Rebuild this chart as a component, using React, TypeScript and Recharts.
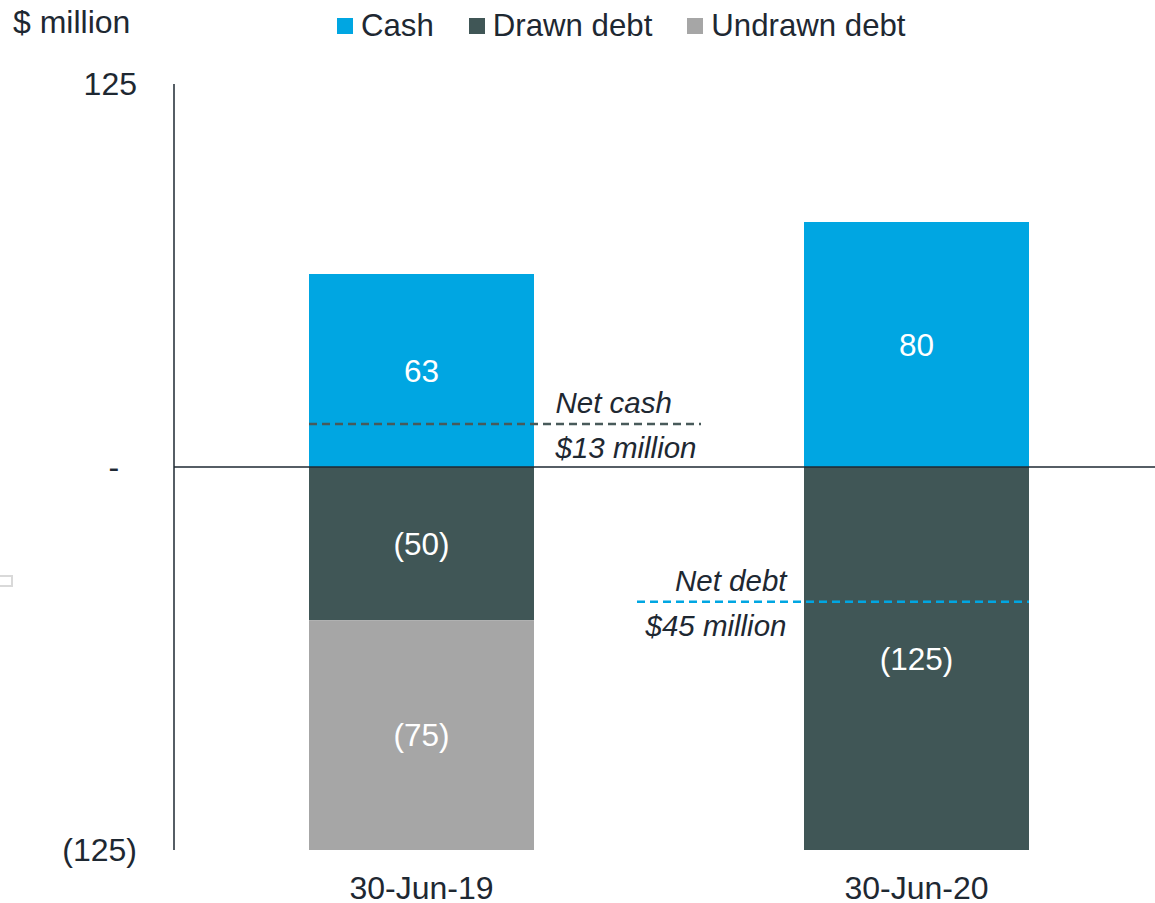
import { BarChart, Bar, XAxis, YAxis, ReferenceLine, LabelList, Legend } from "recharts";

const categories = ["30-Jun-19", "30-Jun-20"];
const cash = [63, 80];
const drawnDebt = [-50, -125];
const undrawnDebt = [-75, null];

const yTicks = [-125, 0, 125];

// net position markers
const netCash = 14;
const netDebt = -44;

const TEXT = "#1e2832";
const FONT = "'Liberation Sans', Arial, sans-serif";
const COLORS = { cash: "#00a6e2", drawn: "#405656", undrawn: "#a6a6a6" };
const BAR = 225;

const data = categories.map((c, i) => ({
  date: c,
  cash: cash[i],
  drawn: drawnDebt[i],
  undrawn: undrawnDebt[i],
}));

const fmt = (v: any) => {
  if (v == null || v === 0) return "";
  return v < 0 ? `(${Math.abs(v)})` : `${v}`;
};

const tickFmt = (v: number) => (v === 0 ? "-\u00a0\u00a0" : v < 0 ? `(${Math.abs(v)})` : `${v}`);

const italic = { fontSize: 29.5, fontStyle: "italic", fontFamily: FONT, fill: TEXT };

// dashed line running from one bar's outer edge towards the other bar, with a two-line note
const netShape = (side: "left" | "right", top: string, bottom: string, color: string) => (p: any) => {
  const y = p.y1;
  const len = 392;
  let sx: number, ex: number, tx: number;
  if (side === "left") {
    sx = p.x1 - BAR / 2;
    ex = sx + len;
    tx = p.x1 + 134;
  } else {
    ex = p.x2 + BAR / 2;
    sx = ex - len;
    tx = p.x2 - 130;
  }
  const anchor = side === "left" ? "start" : "end";
  return (
    <g>
      <line x1={sx} y1={y} x2={ex} y2={y} stroke={color} strokeWidth={2.5} strokeDasharray="8 5" />
      <text x={tx} y={y - 11} textAnchor={anchor} style={italic}>{top}</text>
      <text x={tx} y={y + 34} textAnchor={anchor} style={italic}>{bottom}</text>
    </g>
  );
};

const renderLegend = (props: any) => {
  const items = props.payload || [];
  return (
    <div style={{ display: "flex", alignItems: "center", gap: 35, fontFamily: FONT, fontSize: 31.2, color: TEXT, lineHeight: "31px" }}>
      {items.map((it: any) => (
        <div key={it.value} style={{ display: "flex", alignItems: "center" }}>
          <span style={{ width: 16, height: 16, background: it.color, marginRight: 8, display: "inline-block" }} />
          <span>{it.value}</span>
        </div>
      ))}
    </div>
  );
};

export default function App() {
  return (
    <div style={{ position: "absolute", left: 0, top: 0, width: 1155, height: 903, overflow: "hidden", background: "#fff" }}>
      <div style={{ position: "absolute", left: 13, top: 7, fontFamily: FONT, fontSize: 32, lineHeight: "31px", color: TEXT }}>
        $ million
      </div>
      <div style={{ position: "absolute", left: 0, top: 575, width: 11, height: 8, border: "2px solid #d9d9d9", borderLeft: "none" }} />
      <BarChart
        width={1164}
        height={903}
        data={data}
        stackOffset="sign"
        margin={{ top: 84, right: 0, left: 0, bottom: 0 }}
      >
        <XAxis
          dataKey="date"
          height={53}
          axisLine={false}
          tickLine={false}
          tickSize={0}
          tickMargin={26}
          tick={{ fill: TEXT, fontSize: 32, fontFamily: FONT }}
        />
        <YAxis
          width={174}
          domain={[-125, 125]}
          ticks={yTicks}
          tickFormatter={tickFmt}
          axisLine={{ stroke: TEXT, strokeWidth: 1.5 }}
          tickLine={false}
          tickSize={0}
          tickMargin={37}
          tick={{ fill: TEXT, fontSize: 32, fontFamily: FONT }}
        />
        <Legend
          verticalAlign="middle"
          align="center"
          content={renderLegend}
          wrapperStyle={{ top: 10, left: 337, width: 720 }}
        />
        <Bar dataKey="cash" name="Cash" stackId="a" fill={COLORS.cash} barSize={BAR} isAnimationActive={false}>
          <LabelList dataKey="cash" position="center" formatter={fmt} fill="#fff" style={{ fontSize: 31.5, fontFamily: FONT }} />
        </Bar>
        <Bar dataKey="drawn" name="Drawn debt" stackId="a" fill={COLORS.drawn} barSize={BAR} isAnimationActive={false}>
          <LabelList dataKey="drawn" position="center" formatter={fmt} fill="#fff" style={{ fontSize: 31.5, fontFamily: FONT }} />
        </Bar>
        <Bar dataKey="undrawn" name="Undrawn debt" stackId="a" fill={COLORS.undrawn} barSize={BAR} isAnimationActive={false}>
          <LabelList dataKey="undrawn" position="center" formatter={fmt} fill="#fff" style={{ fontSize: 31.5, fontFamily: FONT }} />
        </Bar>
        <ReferenceLine y={0} stroke={TEXT} strokeWidth={1.5} />
        <ReferenceLine
          segment={[{ x: categories[0], y: netCash }, { x: categories[1], y: netCash }]}
          shape={netShape("left", "Net cash", "$13 million", "#485a5a")}
        />
        <ReferenceLine
          segment={[{ x: categories[0], y: netDebt }, { x: categories[1], y: netDebt }]}
          shape={netShape("right", "Net debt", "$45 million", COLORS.cash)}
        />
      </BarChart>
    </div>
  );
}
